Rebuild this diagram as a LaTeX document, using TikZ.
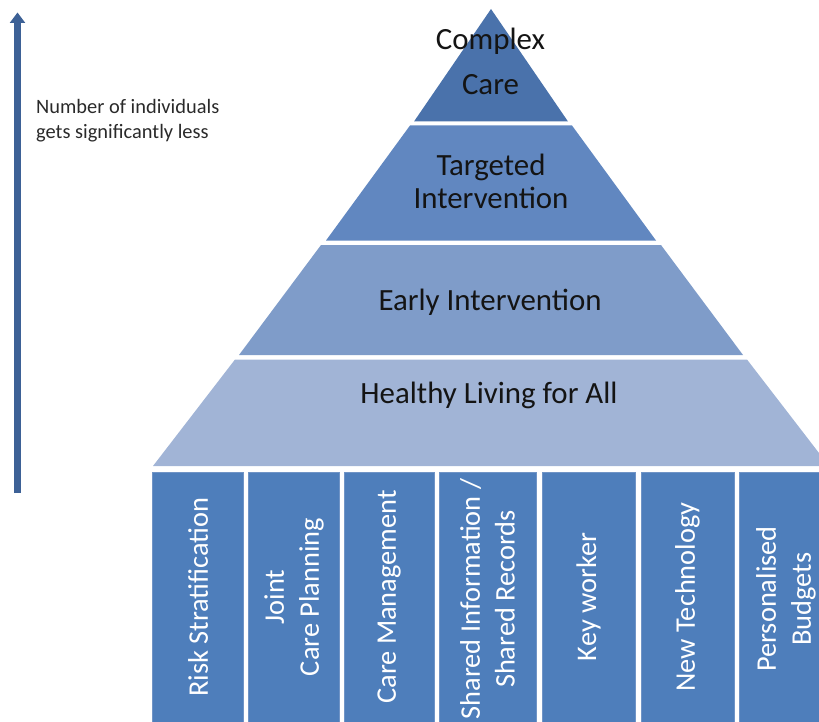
\documentclass[tikz,border=0pt]{standalone}
\usepackage{fontspec}
\setmainfont{Carlito}
\usetikzlibrary{arrows.meta}

\definecolor{tierA}{HTML}{4A72AB}
\definecolor{tierB}{HTML}{6187C0}
\definecolor{tierC}{HTML}{7F9CC9}
\definecolor{tierD}{HTML}{A1B4D6}
\definecolor{pillarblue}{HTML}{4E7EBB}
\definecolor{pillaredge}{HTML}{7094C6}
\definecolor{arrowblue}{HTML}{3D6196}
\definecolor{labelink}{HTML}{141414}
\definecolor{noteink}{HTML}{2A2A2A}

\tikzset{
  tier/.style={fill=#1, draw=none},
  tierlabel/.style={font=\fontsize{31}{34}\selectfont, text=labelink, inner sep=0pt, anchor=base},
  pillar/.style={fill=pillarblue, draw=pillaredge, line width=1bp},
  pillarlabel/.style={font=\fontsize{28.5}{35}\selectfont, text=white, rotate=90, align=center, inner sep=0pt},
  note/.style={font=\fontsize{20.5}{24.7}\selectfont, text=noteink, align=left, inner sep=0pt, anchor=west},
  trend/.style={draw=arrowblue, line width=6.5bp, -{Triangle[width=15bp,length=10.5bp]}}
}

\begin{document}
\begin{tikzpicture}[x=1bp, y=-1bp]
  \useasboundingbox (0,0) rectangle (819,722);
  \clip (0,0) rectangle (819,722);

  % pyramid tiers, top to bottom
  \path[tier=tierA] (491,9) -- (568,121.5) -- (414,121.5) -- cycle;
  \path[tier=tierB] (410,125.5) -- (572,125.5) -- (656,240.5) -- (326,240.5) -- cycle;
  \path[tier=tierC] (321,245) -- (661,245) -- (743,355) -- (239,355) -- cycle;
  \path[tier=tierD] (235,359.5) -- (747,359.5) -- (829,466) -- (153,466) -- cycle;

  \node[tierlabel] (complex) at (490.5,50) {Complex};
  \node[tierlabel] (care) at (490.5,95) {Care};
  \node[tierlabel] (targeted) at (491,175.5) {Targeted};
  \node[tierlabel] (intervention) at (491,208.5) {Intervention};
  \node[tierlabel] (early) at (490,310) {Early Intervention};
  \node[tierlabel] (healthy) at (489,403.5) {Healthy Living for All};

  % supporting pillars
  \path[pillar] (152,472) rectangle (243,735);
  \path[pillar] (248,472) rectangle (339,735);
  \path[pillar] (344,472) rectangle (434,735);
  \path[pillar] (439,472) rectangle (536,735);
  \path[pillar] (542,472) rectangle (635,735);
  \path[pillar] (641,472) rectangle (734,735);
  \path[pillar] (739,472) rectangle (833,735);

  \node[pillarlabel] (risk) at (198,597) {Risk Stratification};
  \node[pillarlabel] (joint) at (294,597) {Joint\\Care Planning};
  \node[pillarlabel] (caremgmt) at (389,597) {Care Management};
  \node[pillarlabel] (shared) at (487.5,599) {Shared Information /\\Shared Records};
  \node[pillarlabel] (keyworker) at (588.5,597) {Key worker};
  \node[pillarlabel] (newtech) at (687.5,597) {New Technology};
  \node[pillarlabel] (budgets) at (786,599) {Personalised\\Budgets};

  % side arrow and its note
  \coordinate (arrowtail) at (17.5,493);
  \coordinate (arrowtip) at (17.5,12.5);
  \draw[trend] (arrowtail) -- (arrowtip);
  \node[note] (note) at (36,120.5) {Number of individuals\\gets significantly less};
\end{tikzpicture}
\end{document}
